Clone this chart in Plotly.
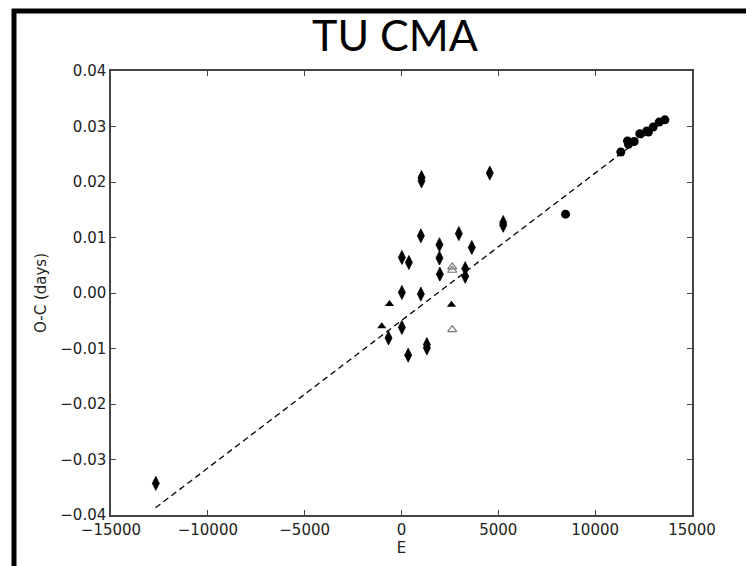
import plotly.graph_objects as go

# Data
diamond_E = [-12686, 1033, 1033, 4560, 5250, 5250, 1000, 2960, 1960, 3630, 20, 380,
             1960, 3290, 3290, 1980, 20, 1000, 20, -670, 1310, 1310, 345]
diamond_OC = [-0.0343, 0.0208, 0.0202, 0.0216, 0.0127, 0.0122, 0.0103, 0.0107, 0.0087,
              0.0082, 0.0064, 0.0055, 0.0063, 0.0044, 0.0030, 0.0034, 0.0001, -0.0002,
              -0.0062, -0.0081, -0.0093, -0.0099, -0.0112]

tri_E = [-620, 2580, -1017]
tri_OC = [-0.0020, -0.0021, -0.0060]

open_tri_E = [2620, 2620, 2620]
open_tri_OC = [0.0047, 0.0041, -0.0066]

circle_E = [8470, 11325, 11670, 11720, 12015, 12305, 12667, 12750, 12995, 13305, 13600]
circle_OC = [0.0142, 0.0254, 0.0274, 0.0268, 0.0273, 0.0287, 0.0292, 0.0290, 0.0299,
             0.0308, 0.0312]

fit_E = [-12700, 13650]
fit_OC = [-0.0387, 0.0313]

x_ticks = [-15000, -10000, -5000, 0, 5000, 10000, 15000]
x_ticktext = ["\u221215000", "\u221210000", "\u22125000", "0", "5000", "10000", "15000"]
y_ticks = [-0.04, -0.03, -0.02, -0.01, 0.0, 0.01, 0.02, 0.03, 0.04]
y_ticktext = ["\u22120.04", "\u22120.03", "\u22120.02", "\u22120.01", "0.00", "0.01", "0.02", "0.03", "0.04"]

fig = go.Figure()

fig.add_trace(go.Scatter(x=fit_E, y=fit_OC, mode="lines",
                         line=dict(color="black", width=1.3, dash="6px,4px"),
                         hoverinfo="skip"))
fig.add_trace(go.Scatter(x=diamond_E, y=diamond_OC, mode="markers",
                         marker=dict(symbol="diamond-tall", size=10, color="black",
                                     line=dict(width=0.8, color="black"))))
fig.add_trace(go.Scatter(x=tri_E, y=tri_OC, mode="markers",
                         marker=dict(symbol="triangle-up", size=8, color="black",
                                     line=dict(width=0))))
fig.add_trace(go.Scatter(x=open_tri_E, y=open_tri_OC, mode="markers",
                         marker=dict(symbol="triangle-up-open", size=8, color="#777777",
                                     line=dict(width=1.2))))
fig.add_trace(go.Scatter(x=circle_E, y=circle_OC, mode="markers",
                         marker=dict(symbol="circle", size=9, color="black",
                                     line=dict(width=0))))

W, H = 754, 566
L, R, T, B = 103, 684, 63, 507

axis_common = dict(showgrid=False, zeroline=False, showline=True, linecolor="#444444",
                   linewidth=1.5, mirror="ticks", ticks="inside", ticklen=5,
                   tickcolor="#444444", tickwidth=1,
                   tickfont=dict(family="DejaVu Sans", size=15, color="#222222"))

fig.update_layout(
    width=W, height=H,
    margin=dict(l=L, r=W - R, t=T, b=H - B, autoexpand=False),
    paper_bgcolor="white", plot_bgcolor="white",
    showlegend=False,
    title=dict(text="TU CMA", x=387 / W, xanchor="center", y=1 - 28 / H,
               yanchor="middle", yref="container",
               font=dict(family="Lato, Open Sans, sans-serif", size=43, color="black")),
    xaxis=dict(range=[-15000, 15000], tickvals=x_ticks, ticktext=x_ticktext,
               title=dict(text="E", font=dict(family="DejaVu Sans", size=15, color="#222222"),
                          standoff=2),
               **axis_common),
    yaxis=dict(range=[-0.04, 0.04], tickvals=y_ticks, ticktext=y_ticktext,
               title=dict(text="O-C (days)", font=dict(family="DejaVu Sans", size=15, color="#222222"),
                          standoff=10),
               **axis_common),
)

# Black slide frame (left, top, bottom) in paper coordinates
pw, ph = R - L, B - T
def px_x(p):
    return (p - L) / pw
def px_y(p):
    return (B - p) / ph

frame = dict(color="black", width=5)
fig.add_shape(type="line", xref="paper", yref="paper", x0=px_x(6), x1=px_x(6),
              y0=px_y(1), y1=px_y(566), line=frame)
fig.add_shape(type="line", xref="paper", yref="paper", x0=px_x(4), x1=px_x(760),
              y0=px_y(3), y1=px_y(3), line=frame)
fig.add_shape(type="line", xref="paper", yref="paper", x0=px_x(4), x1=px_x(760),
              y0=px_y(564), y1=px_y(564), line=frame)

fig.write_html("out.html")
